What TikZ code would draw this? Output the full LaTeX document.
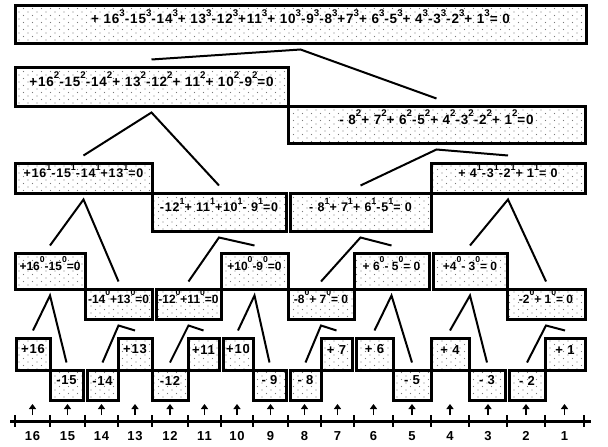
\documentclass[tikz,border=0pt]{standalone}
\usepackage{fontspec}
\setmainfont{Liberation Sans}[LetterSpace=6]
\newfontfamily\dicht{Liberation Sans}
\usepackage{tikz}
\usetikzlibrary{arrows.meta,patterns,fit}
\definecolor{punkt}{HTML}{7A7A7A}
\pgfdeclarepatternformonly{streu}{\pgfqpoint{-1pt}{-1pt}}{\pgfqpoint{10pt}{8pt}}{\pgfqpoint{9pt}{7pt}}{%
  \pgfpathcircle{\pgfqpoint{1pt}{1pt}}{0.55pt}
  \pgfpathcircle{\pgfqpoint{5.5pt}{4.5pt}}{0.55pt}
  \pgfusepath{fill}}
\newcommand\hoch[2][7.5pt]{\raisebox{#1}{\scalebox{0.72}{#2}}}
\newcommand\feld[6]{\node[kasten,fit={(#2,#4) (#3,#5)}] (#1) {#6};}
\tikzset{
  kasten/.style={draw,line width=3pt,pattern=streu,pattern color=punkt,inner sep=0pt,
    font=\bfseries\fontsize{13.5}{13.5}\selectfont},
  klein/.style={font=\bfseries\fontsize{12.5}{12.5}\selectfont},
  winzig/.style={font=\dicht\bfseries\fontsize{12}{12}\selectfont},
  normal/.style={font=\bfseries\fontsize{13}{13}\selectfont},
  ast/.style={line width=2pt},
  ax/.style={line width=3pt},
  strich/.style={line width=2pt},
  pfeil/.style={-{Triangle[length=5pt,width=7pt]},line width=1.8pt},
  zahl/.style={font=\bfseries\fontsize{13}{13}\selectfont,inner sep=0pt},
}
\begin{document}
\begin{tikzpicture}[x=1pt,y=-1pt]
  \useasboundingbox[fill=white] (0,0) rectangle (608,447);
  \feld{kub}{15}{586}{5}{43}{+ 16\hoch3-15\hoch3-14\hoch3+ 13\hoch3-12\hoch3+11\hoch3+ 10\hoch3-9\hoch3-8\hoch3+7\hoch3+ 6\hoch3-5\hoch3+ 4\hoch3-3\hoch3-2\hoch3+ 1\hoch3= 0}
  \feld{qa}{15}{288}{67}{106}{+16\hoch2-15\hoch2-14\hoch2+ 13\hoch2-12\hoch2+ 11\hoch2+ 10\hoch2-9\hoch2=0}
  \feld{qb}{288}{585}{106}{143}{- 8\hoch2+ 7\hoch2+ 6\hoch2-5\hoch2+ 4\hoch2-3\hoch2-2\hoch2+ 1\hoch2=0}
  \tikzset{kasten/.append style=klein}
  \feld{la}{15}{152}{163}{193}{+16\hoch1-15\hoch1-14\hoch1+13\hoch1=0}
  \feld{lb}{152}{286}{193}{231}{-12\hoch1+ 11\hoch1+10\hoch1- 9\hoch1=0}
  \feld{lc}{290}{431}{193}{231}{- 8\hoch1+ 7\hoch1+ 6\hoch1-5\hoch1= 0}
  \feld{ld}{431}{585}{163}{193}{+ 4\hoch1-3\hoch1-2\hoch1+ 1\hoch1= 0}
  \tikzset{kasten/.append style=winzig}
  \feld{na}{15}{85}{253}{289}{+16\hoch[8.5pt]0-15\hoch[8.5pt]0=0}
  \feld{nb}{85}{152}{289}{319}{-14\hoch[8.5pt]0+13\hoch[8.5pt]0=0}
  \feld{nc}{156}{221}{289}{319}{-12\hoch[8.5pt]0+11\hoch[8.5pt]0=0}
  \feld{nd}{221}{288}{253}{289}{+10\hoch[8.5pt]0-9\hoch[8.5pt]0=0}
  \feld{ne}{288}{354}{289}{319}{-8\hoch[8.5pt]0+ 7\hoch[8.5pt]0= 0}
  \feld{nf}{354}{429}{253}{289}{+ 6\hoch[8.5pt]0- 5\hoch[8.5pt]0= 0}
  \feld{ng}{433}{507}{253}{289}{+4\hoch[8.5pt]0- 3\hoch[8.5pt]0= 0}
  \feld{nh}{507}{585}{289}{319}{-2\hoch[8.5pt]0+ 1\hoch[8.5pt]0= 0}
  \tikzset{kasten/.append style=normal}
  \feld{e16}{16}{50}{338}{370}{+16}
  \feld{e15}{50}{83}{370}{400}{-15}
  \feld{e14}{87}{118}{370}{400}{-14}
  \feld{e13}{118}{152}{338}{370}{+13}
  \feld{e12}{152}{188}{370}{400}{-12}
  \feld{e11}{188}{219}{338}{370}{+11}
  \feld{e10}{223}{253}{338}{370}{+10}
  \feld{e9}{253}{286}{370}{400}{- 9}
  \feld{e8}{290}{321}{370}{400}{- 8}
  \feld{e7}{321}{352}{338}{370}{+ 7}
  \feld{e6}{356}{393}{338}{370}{+ 6}
  \feld{e5}{393}{431}{370}{400}{- 5}
  \feld{e4}{431}{469}{338}{370}{+ 4}
  \feld{e3}{469}{505}{370}{400}{- 3}
  \feld{e2}{509}{545}{370}{400}{- 2}
  \feld{e1}{545}{585}{338}{370}{+ 1}
  \foreach \p/\a/\b in {kub/qa/qb, qa/la/lb, qb/lc/ld, la/na/nb, lb/nc/nd, lc/ne/nf, ld/ng/nh,
      na/e16/e15, nb/e14/e13, nc/e12/e11, nd/e10/e9, ne/e8/e7, nf/e6/e5, ng/e4/e3, nh/e2/e1}
    \draw[ast] ([yshift=6pt]\a.north) -- ([yshift=-5pt]\p.south) -- ([yshift=6pt]\b.north);
  \draw[ax] (10,421) -- (591,421);
  \foreach \x in {15,50,85,118,152,188,221,253,288,321,354,393,431,469,507,545,584}
    \draw[strich] (\x,415) -- (\x,427);
  \foreach \xa/\xb/\n in {15/50/16, 50/85/15, 85/118/14, 118/152/13, 152/188/12, 188/221/11,
      221/253/10, 253/288/9, 288/321/8, 321/354/7, 354/393/6, 393/431/5, 431/469/4,
      469/507/3, 507/545/2, 545/584/1} {
    \node[zahl] (z\n) at ({(\xa+\xb)/2},436) {\n};
    \draw[pfeil] ([yshift=21pt]z\n.center) -- ([yshift=32pt]z\n.center);
  }
\end{tikzpicture}
\end{document}
